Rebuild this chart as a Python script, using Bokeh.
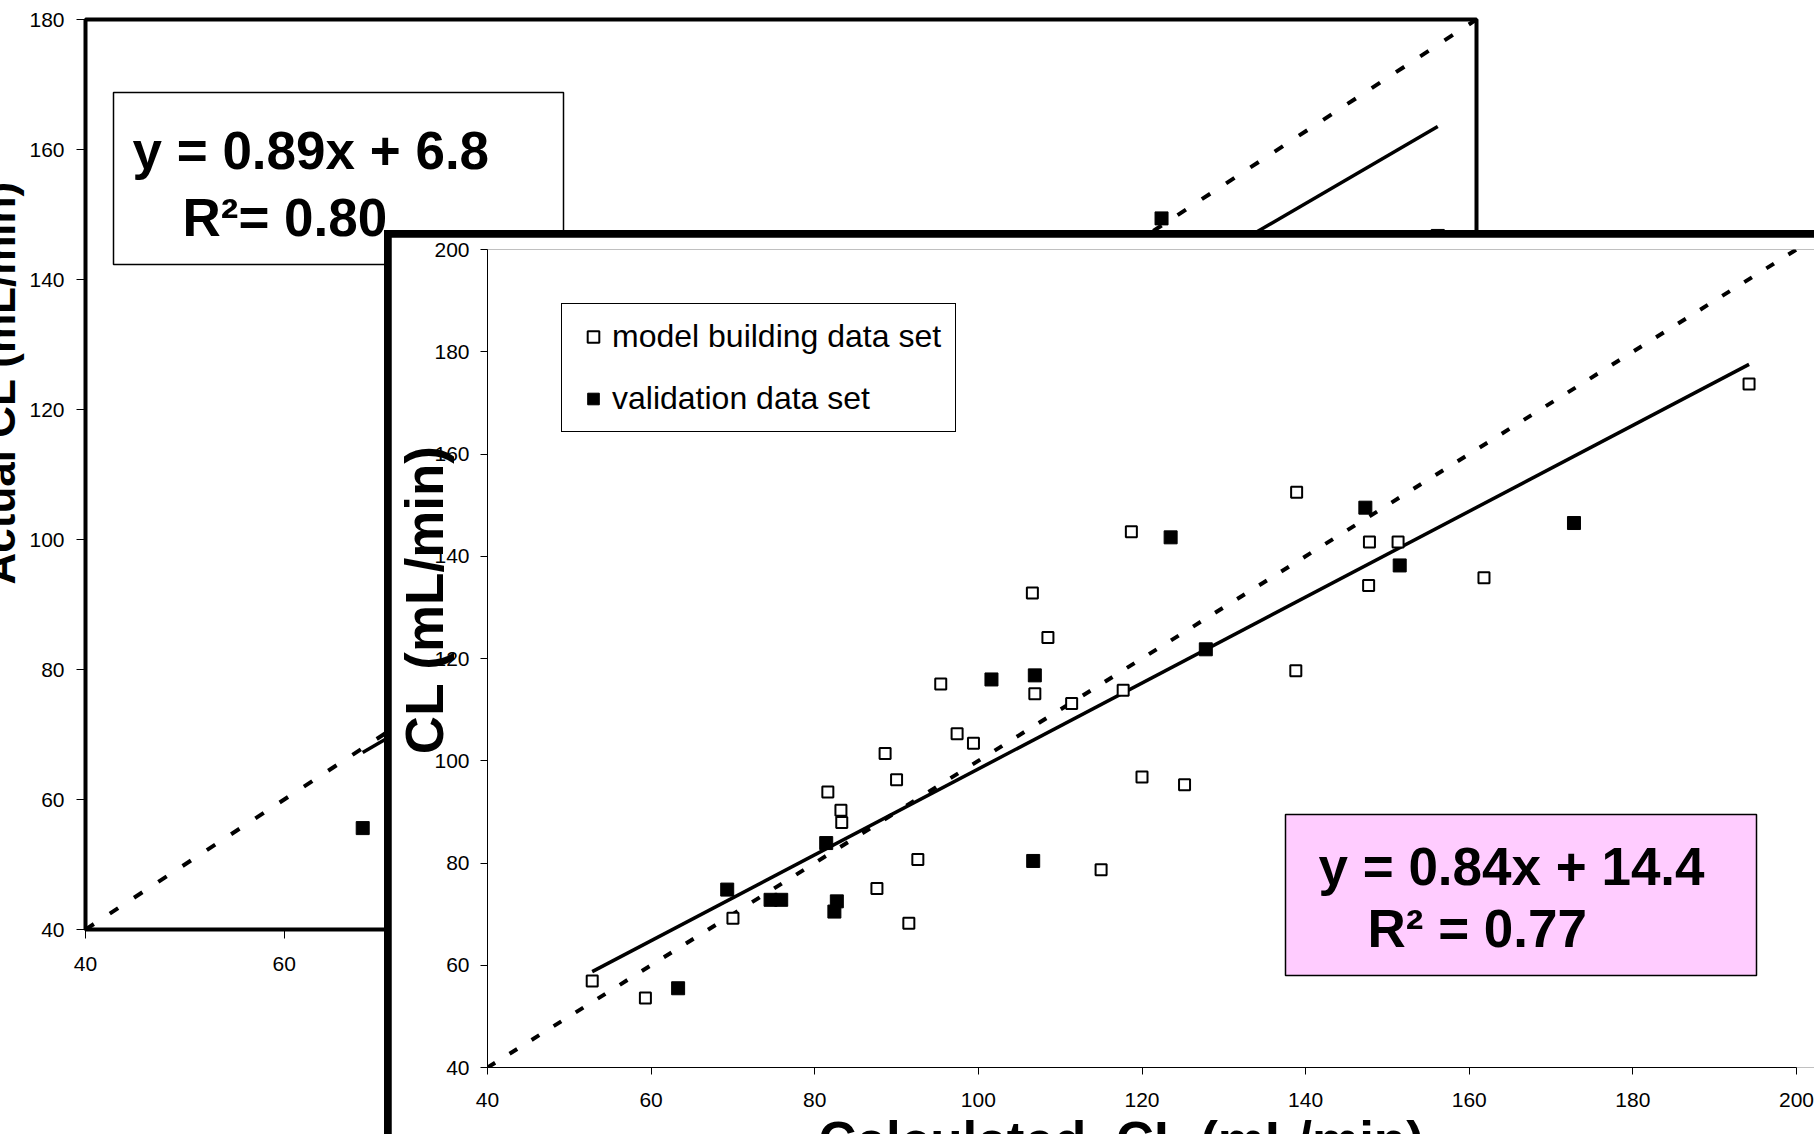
import math
from bokeh.plotting import figure
from bokeh.models import FixedTicker, Label, BoxAnnotation, Legend, LegendItem
from bokeh.layouts import column
from bokeh.embed import file_html
from bokeh.resources import INLINE

# ---------------- data ----------------
back_ticks = [40, 60, 80, 100, 120, 140, 160, 180]
front_ticks = [40, 60, 80, 100, 120, 140, 160, 180, 200]

# back chart (Actual CL) - only the points that remain visible
back_valid_x = [67.9, 148.3, 176.1]
back_valid_y = [55.6, 149.4, 146.7]
back_slope, back_intercept = 0.89, 6.8
back_eq_line1 = "y = 0.89x + 6.8"
back_eq_line2 = "R\u00b2= 0.80"
identity_back = [40, 180]

# front chart (CL vs Calculated CL)
model_x = [52.8, 59.3, 70.0, 81.6, 83.2, 83.3, 87.6, 88.6, 90.0, 91.5, 92.6, 95.4, 97.4, 99.4,
           106.6, 106.9, 108.5, 111.4, 115.0, 117.7, 118.7, 120.0, 125.2, 138.8, 138.9, 147.7,
           147.8, 151.3, 161.8, 194.2]
model_y = [56.9, 53.6, 69.2, 93.9, 90.3, 87.9, 75.0, 101.4, 96.3, 68.2, 80.7, 115.0, 105.3, 103.4,
           132.8, 113.1, 124.1, 111.2, 78.7, 113.8, 144.8, 96.8, 95.3, 117.6, 152.5, 134.3,
           142.8, 142.8, 135.8, 173.7]
valid_x = [63.3, 69.3, 74.6, 75.9, 81.4, 82.4, 82.7, 101.6, 106.7, 106.9, 123.5, 127.8, 147.3, 151.5, 172.8]
valid_y = [55.5, 74.8, 72.8, 72.8, 83.9, 70.5, 72.5, 115.9, 80.4, 116.7, 143.7, 121.8, 149.5, 138.2, 146.5]
front_slope, front_intercept = 0.84, 14.4
front_eq_line1 = "y = 0.84x + 14.4"
front_eq_line2 = "R\u00b2 = 0.77"
identity_front = [40, 200]
legend_labels = ["model building data set", "validation data set"]
front_xtitle = "Calculated\u00a0 CL (mL/min)"
front_ytitle = "CL (mL/min)"
back_ytitle = "Actual CL (mL/min)"

FONT = "Liberation Sans"
W, H = 1814, 1134
NB = "\u00a0"


def style_axes(p, ticks, tick_out, ystand, xstand, bounds=None, axis_line=True):
    for ax in (p.xaxis, p.yaxis):
        ax.ticker = FixedTicker(ticks=ticks)
        ax.major_tick_out = tick_out
        ax.major_tick_in = 0
        ax.major_tick_line_color = "black"
        ax.major_tick_line_width = 1
        ax.minor_tick_line_color = None
        ax.major_label_text_font = FONT
        ax.major_label_text_font_size = "21px"
        ax.major_label_text_color = "black"
        ax.axis_line_color = "black" if axis_line else None
        ax.axis_line_width = 1
        ax.axis_label_text_font = FONT
        ax.axis_label_text_font_style = "bold"
        ax.axis_label_text_color = "black"
        if bounds is not None:
            ax.bounds = bounds
    p.yaxis.major_label_standoff = ystand
    p.xaxis.major_label_standoff = xstand


# ---------------- back figure ----------------
B_SHIFT = 40                      # part of the back figure hidden past the left edge
B_L, B_R, B_T, B_B = 85, 1476, 19, 929
back = figure(width=W, height=H, x_range=(40, 180), y_range=(40, 180),
              output_backend="svg", toolbar_location=None,
              min_border_left=B_L + B_SHIFT, min_border_right=W - B_SHIFT - B_R,
              min_border_top=B_T, min_border_bottom=H - B_B)
back.margin = (0, 0, 0, -B_SHIFT)
back.grid.visible = False
back.outline_line_color = "black"
back.outline_line_width = 4
back.background_fill_color = "white"
back.border_fill_color = "white"
style_axes(back, back_ticks, 9, 12, 18, axis_line=False)
back.yaxis.axis_label = NB * 15 + back_ytitle
back.yaxis.axis_label_text_font_size = "44px"
back.yaxis.axis_label_standoff = 2


def bx(px):  # page px -> back data x
    return 40 + (px - B_L) * 140.0 / (B_R - B_L)


def by(py):
    return 180 - (py - B_T) * 140.0 / (B_B - B_T)


back.line(identity_back, identity_back, line_color="black", line_width=4, line_dash="10 19")
bxs = [min(back_valid_x), max(back_valid_x)]
back.line(bxs, [back_slope * v + back_intercept for v in bxs], line_color="black", line_width=3.5)
back.scatter(back_valid_x, back_valid_y, marker="square", size=13, fill_color="black", line_color="black")

back.add_layout(BoxAnnotation(left=bx(113), right=bx(563), top=by(92), bottom=by(264),
                              fill_color="white", fill_alpha=1, line_color="black",
                              line_alpha=1, line_width=1.5))
for txt, px, py in ((back_eq_line1, 132, 150), (back_eq_line2, 182, 217)):
    back.add_layout(Label(x=px - B_L, y=B_B - py, x_units="screen", y_units="screen", text=txt,
                          text_font=FONT, text_font_size="53px", text_font_style="bold",
                          text_color="black", text_align="left", text_baseline="alphabetic"))

# ---------------- front figure ----------------
F_X0, F_Y0 = 384, 230          # outer (border) corner on the page
BW = 7                          # thick border width
FF_L, FF_T, FF_B, FF_R = 487, 249, 1067, W
BOT = 130                       # bottom panel (partly below the window)
FW = W - F_X0 - BW
FH = (FF_B - (F_Y0 + BW)) + BOT
OVER = (F_Y0 + BW + FH) - H     # part of the front figure below the window
x_end = 40 + (FF_R - FF_L) * 160.0 / (1796 - FF_L)
front = figure(width=FW, height=FH, x_range=(40, x_end), y_range=(40, 200),
               output_backend="svg", toolbar_location=None,
               min_border_left=FF_L - (F_X0 + BW), min_border_right=0,
               min_border_top=FF_T - (F_Y0 + BW), min_border_bottom=BOT)
front.grid.visible = False
front.outline_line_color = None
front.background_fill_color = "white"
front.border_fill_color = "white"
style_axes(front, front_ticks, 7, 11, 18, bounds=(40, 200))
front.yaxis.axis_label = NB * 8 + front_ytitle
front.yaxis.axis_label_text_font_size = "53px"
front.yaxis.axis_label_standoff = -23
front.xaxis.axis_label = front_xtitle + NB * 4
front.xaxis.axis_label_text_font_size = "53px"
front.xaxis.axis_label_standoff = 1


def fx(px):
    return 40 + (px - FF_L) * (x_end - 40) / (FF_R - FF_L)


def fy(py):
    return 40 + (FF_B - py) * 160.0 / (FF_B - FF_T)


front.line(identity_front, identity_front, line_color="black", line_width=4, line_dash="9 17")
all_x = model_x + valid_x
fxs = [min(all_x), max(all_x)]
front.line(fxs, [front_slope * v + front_intercept for v in fxs], line_color="black", line_width=3.5)
r_model = front.scatter(model_x, model_y, marker="square", size=11, fill_color="white",
                        line_color="black", line_width=2)
r_valid = front.scatter(valid_x, valid_y, marker="square", size=13, fill_color="black",
                        line_color="black", line_width=1)

LEG_TOP, LEG_H = 305, 127
legend = Legend(items=[LegendItem(label=legend_labels[0], renderers=[r_model]),
                       LegendItem(label=legend_labels[1], renderers=[r_valid])],
                location=(561 - FF_L, FF_B - (LEG_TOP + LEG_H)), margin=0, padding=14, spacing=25,
                label_height=37, glyph_width=34, glyph_height=29, label_standoff=2,
                label_text_font=FONT, label_text_font_size="32px", label_text_color="black",
                border_line_color="black", border_line_width=1.5, border_line_alpha=1,
                background_fill_color="white", background_fill_alpha=1)
front.add_layout(legend)

front.add_layout(BoxAnnotation(left=fx(1285), right=fx(1756), top=fy(814), bottom=fy(975),
                               fill_color="#FFCCFF", fill_alpha=1, line_color="black",
                               line_alpha=1, line_width=1.5))
for txt, px, py in ((front_eq_line1, 1318, 866), (front_eq_line2, 1367, 928)):
    front.add_layout(Label(x=px - FF_L, y=FF_B - py, x_units="screen", y_units="screen", text=txt,
                           text_font=FONT, text_font_size="53px", text_font_style="bold",
                           text_color="black", text_align="left", text_baseline="alphabetic"))

front.margin = (BW, 0, -OVER, BW)
front.styles = {"flex-shrink": "0"}
wrapper = column(front, margin=(-(H - F_Y0), 0, 0, F_X0),
                 styles={"background-color": "black", "overflow": "hidden"})
layout = column(back, wrapper)

open("out.html", "w").write(file_html(layout, INLINE))
